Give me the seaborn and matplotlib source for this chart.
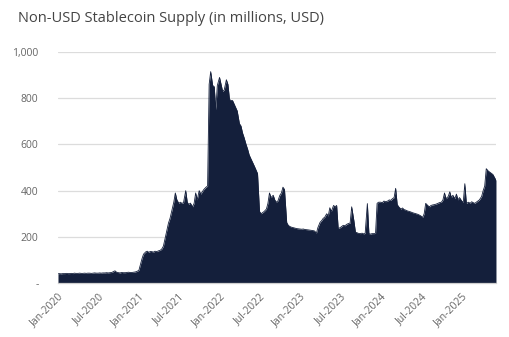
import numpy as np
import pandas as pd
import matplotlib
matplotlib.use("Agg")
import matplotlib.pyplot as plt
import matplotlib.dates as mdates
import seaborn as sns

# ---- data: weekly-ish readings (days 1, 8, 15, 22 of each month), millions USD
months = pd.date_range("2020-01-01", "2025-05-01", freq="MS")
week_offsets = [0, 7, 14, 21]

supply_2020 = [40, 41, 40, 41,  41, 42, 41, 41,  42, 41, 43, 42,  42, 43, 42, 42,
               43, 42, 43, 43,  42, 43, 44, 43,  43, 44, 43, 44,  44, 45, 44, 45,
               46, 50, 53, 47,  45, 44, 46, 45,  45, 46, 47, 46,  46, 47, 48, 50]
supply_2021 = [55, 80, 105, 125,  135, 138, 133, 137,  136, 134, 138, 136,  140, 142, 148, 160,
               200, 230, 260, 280,  320, 350, 390, 360,  345, 350, 345, 348,  400, 350, 340, 346,
               330, 345, 390, 360,  400, 385, 395, 405,  415, 420, 860, 915,  855, 850, 750, 855]
supply_2022 = [890, 860, 830, 835,  880, 860, 795, 790,  790, 775, 760, 745,  690, 680, 650, 630,
               600, 580, 555, 540,  520, 505, 490, 474,  310, 300, 305, 310,  320, 345, 390, 370,
               380, 360, 350, 355,  380, 390, 415, 405,  262, 250, 245, 242,  240, 238, 236, 235]
supply_2023 = [234, 233, 234, 232,  231, 230, 229, 228,  227, 225, 214, 240,  263, 270, 280, 285,
               300, 290, 326, 310,  336, 330, 336, 236,  240, 245, 250, 248,  255, 258, 260, 330,
               270, 220, 218, 215,  214, 216, 213, 215,  344, 214, 212, 214,  214, 215, 345, 350]
supply_2024 = [350, 348, 355, 352,  355, 360, 358, 365,  370, 410, 340, 330,  320, 325, 318, 316,
               312, 310, 308, 305,  302, 300, 298, 295,  290, 284, 300, 345,  335, 330, 336, 338,
               340, 342, 345, 348,  350, 360, 390, 365,  375, 395, 370, 380,  365, 385, 360, 370]
supply_2025 = [355, 350, 430, 345,  350, 345, 352, 348,  345, 350, 355, 360,  375, 400, 420, 495,
               485, 480, 475, 470]
supply_last = [445]
last_date = "2025-06-05"

supply = supply_2020 + supply_2021 + supply_2022 + supply_2023 + supply_2024 + supply_2025 + supply_last
dates = [m + pd.Timedelta(days=d) for m in months for d in week_offsets] + [pd.Timestamp(last_date)]
df = pd.DataFrame({"date": dates, "supply": supply})

y_ticks = [0, 200, 400, 600, 800, 1000]
y_labels = ["-", "200", "400", "600", "800", "1,000"]
x_ticks = pd.date_range("2020-01-01", "2025-01-01", freq="6MS")

title = "Non-USD Stablecoin Supply (in millions, USD)"

# ---- style
sns.set_style("white")
plt.rcParams["font.family"] = ["Open Sans", "DejaVu Sans"]

navy = "#141f3b"
fig = plt.figure(figsize=(5.10, 3.37), dpi=100)
ax = fig.add_axes([0.1137, 0.160, 0.8588, 0.6857])

ax.fill_between(df["date"], 0, df["supply"], color=navy, linewidth=0, zorder=2)
sns.lineplot(data=df, x="date", y="supply", ax=ax, color=navy, linewidth=0.6, zorder=3)

ax.set_ylim(0, 1000)
ax.set_xlim(pd.Timestamp("2020-01-01"), pd.Timestamp(last_date))
ax.set_yticks(y_ticks)
ax.set_yticklabels(y_labels)
ax.set_xticks(x_ticks)
ax.xaxis.set_major_formatter(mdates.DateFormatter("%b-%Y"))

for yv in y_ticks[1:]:
    ax.axhline(yv, color="#dcdcdc", linewidth=0.9, zorder=1)

for s in ["top", "right", "left"]:
    ax.spines[s].set_visible(False)
ax.spines["bottom"].set_color("#cfcfcf")
ax.spines["bottom"].set_linewidth(0.9)

ax.tick_params(axis="y", length=0, pad=14, labelsize=7.5, labelcolor="#666666")
ax.tick_params(axis="x", length=4, width=0.8, color="#cfcfcf", pad=2,
               labelsize=7.5, labelcolor="#666666")
for lbl in ax.get_xticklabels():
    lbl.set_rotation(45)
    lbl.set_ha("right")
    lbl.set_rotation_mode("anchor")

ax.set_xlabel("")
ax.set_ylabel("")
fig.text(0.035, 0.944, title, fontsize=10.5, color="#444444", va="center", ha="left")

fig.savefig("out.png", dpi=100)
